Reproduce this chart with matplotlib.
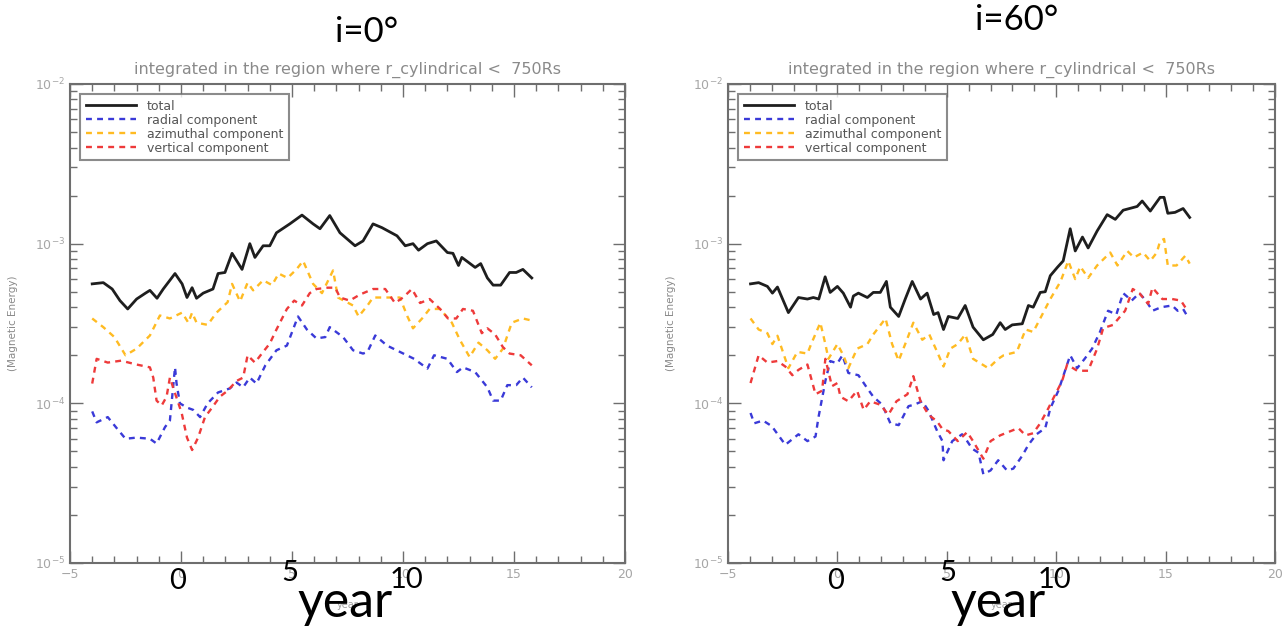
import matplotlib
matplotlib.use("Agg")
import matplotlib.pyplot as plt
import numpy as np
from matplotlib.ticker import MultipleLocator, LogLocator

# ---- i = 0 deg panel: (year, value) points ----
t_total_i0 = [-4, -3.5, -3.1, -2.75, -2.4, -2.0, -1.6, -1.4, -1.08, -0.8, -0.27, 0.05, 0.27, 0.5, 0.7,
              1.0, 1.44, 1.67, 1.98, 2.3, 2.75, 3.1, 3.33, 3.7, 4.0, 4.3, 4.9, 5.45, 5.95, 6.26, 6.7,
              7.16, 7.84, 8.2, 8.65, 9.05, 9.73, 10.1, 10.45, 10.7, 11.1, 11.5, 12.0, 12.25, 12.5,
              12.65, 13.25, 13.5, 13.8, 14.06, 14.4, 14.8, 15.1, 15.4, 15.8]
total_i0 = [5.6e-4, 5.7e-4, 5.2e-4, 4.4e-4, 3.9e-4, 4.5e-4, 4.9e-4, 5.1e-4, 4.55e-4, 5.2e-4, 6.5e-4,
            5.6e-4, 4.6e-4, 5.3e-4, 4.55e-4, 4.9e-4, 5.2e-4, 6.5e-4, 6.6e-4, 8.7e-4, 6.9e-4, 1.0e-3,
            8.2e-4, 9.7e-4, 9.7e-4, 1.17e-3, 1.33e-3, 1.51e-3, 1.33e-3, 1.24e-3, 1.5e-3, 1.17e-3,
            9.7e-4, 1.04e-3, 1.33e-3, 1.26e-3, 1.12e-3, 9.7e-4, 1.0e-3, 9.1e-4, 1.0e-3, 1.04e-3,
            8.8e-4, 8.7e-4, 7.3e-4, 8.2e-4, 7.1e-4, 7.5e-4, 6.1e-4, 5.5e-4, 5.5e-4, 6.6e-4, 6.6e-4,
            6.9e-4, 6.1e-4]

t_radial_i0 = [-4, -3.8, -3.3, -2.9, -2.5, -2.0, -1.4, -1.1, -0.72, -0.5, -0.27, -0.2, -0.05, 0.27,
               0.55, 0.86, 1.2, 1.67, 2.2, 2.5, 2.8, 3.1, 3.4, 3.8, 4.3, 4.77, 5.27, 5.67, 6.1, 6.5,
               6.7, 7.3, 7.75, 8.2, 8.4, 8.75, 9.28, 9.86, 10.5, 11.1, 11.4, 12.0, 12.43, 12.7,
               13.25, 13.8, 14.06, 14.4, 14.7, 15.1, 15.4, 15.8]
radial_i0 = [8.9e-5, 7.6e-5, 8.2e-5, 7.0e-5, 6.0e-5, 6.1e-5, 6.0e-5, 5.6e-5, 7.1e-5, 7.8e-5, 1.68e-4,
             1.33e-4, 1.0e-4, 9.4e-5, 9.1e-5, 8.2e-5, 1.0e-4, 1.17e-4, 1.24e-4, 1.35e-4, 1.26e-4,
             1.45e-4, 1.33e-4, 1.73e-4, 2.15e-4, 2.3e-4, 3.5e-4, 2.9e-4, 2.55e-4, 2.6e-4, 3.0e-4,
             2.6e-4, 2.15e-4, 2.05e-4, 2.1e-4, 2.66e-4, 2.3e-4, 2.1e-4, 1.9e-4, 1.65e-4, 2.0e-4,
             1.9e-4, 1.57e-4, 1.68e-4, 1.57e-4, 1.26e-4, 1.04e-4, 1.04e-4, 1.3e-4, 1.3e-4, 1.45e-4,
             1.26e-4]

t_azimuthal_i0 = [-4, -3.5, -3.0, -2.5, -2.0, -1.4, -0.95, -0.5, 0.05, 0.33, 0.5, 0.7, 1.2, 1.6, 2.1,
                  2.3, 2.66, 3.0, 3.25, 3.7, 4.1, 4.4, 4.8, 5.2, 5.5, 5.95, 6.35, 6.85, 7.07, 7.75,
                  8.0, 8.4, 8.65, 9.4, 9.86, 10.2, 10.45, 10.86, 11.2, 11.67, 12.2, 12.56, 13.0,
                  13.4, 13.8, 14.15, 14.5, 14.9, 15.4, 15.8]
azimuthal_i0 = [3.4e-4, 3.0e-4, 2.6e-4, 2.0e-4, 2.2e-4, 2.66e-4, 3.55e-4, 3.4e-4, 3.7e-4, 3.2e-4,
                3.7e-4, 3.2e-4, 3.1e-4, 3.7e-4, 4.3e-4, 5.6e-4, 4.35e-4, 5.7e-4, 5.1e-4, 5.9e-4,
                5.5e-4, 6.5e-4, 6.1e-4, 6.9e-4, 7.8e-4, 5.6e-4, 4.9e-4, 6.8e-4, 4.6e-4, 4.1e-4,
                3.5e-4, 4.1e-4, 4.6e-4, 4.6e-4, 4.6e-4, 3.5e-4, 2.95e-4, 3.4e-4, 3.9e-4, 3.9e-4,
                3.2e-4, 2.5e-4, 1.95e-4, 2.4e-4, 2.15e-4, 1.9e-4, 2.2e-4, 3.2e-4, 3.4e-4, 3.3e-4]

t_vertical_i0 = [-4, -3.8, -3.3, -2.7, -2.0, -1.4, -1.25, -1.1, -0.87, -0.65, -0.5, -0.35, 0.03, 0.27,
                 0.5, 0.77, 1.08, 1.4, 1.75, 2.1, 2.5, 2.8, 3.0, 3.33, 3.7, 4.0, 4.3, 4.77, 5.1,
                 5.45, 5.8, 6.1, 6.6, 6.95, 7.16, 7.6, 8.06, 8.65, 9.2, 9.64, 10.0, 10.4, 10.77,
                 11.2, 11.67, 12.03, 12.4, 12.7, 13.15, 13.55, 13.8, 14.15, 14.5, 14.8, 15.3, 15.8]
vertical_i0 = [1.33e-4, 1.9e-4, 1.8e-4, 1.85e-4, 1.75e-4, 1.68e-4, 1.45e-4, 1.04e-4, 9.7e-5, 1.1e-4,
               1.45e-4, 1.25e-4, 8.7e-5, 6.1e-5, 5.1e-5, 6.1e-5, 8.2e-5, 9.4e-5, 1.1e-4, 1.2e-4,
               1.38e-4, 1.45e-4, 2.0e-4, 1.8e-4, 2.1e-4, 2.37e-4, 2.9e-4, 3.9e-4, 4.4e-4, 4.1e-4,
               4.9e-4, 5.2e-4, 5.3e-4, 5.3e-4, 4.6e-4, 4.4e-4, 4.8e-4, 5.2e-4, 5.2e-4, 4.25e-4,
               4.6e-4, 5.2e-4, 4.25e-4, 4.5e-4, 3.9e-4, 3.4e-4, 3.4e-4, 3.9e-4, 3.8e-4, 2.75e-4,
               2.95e-4, 2.7e-4, 2.25e-4, 2.05e-4, 2.0e-4, 1.73e-4]

# ---- i = 60 deg panel ----
t_total_i60 = [-3.97, -3.6, -3.2, -2.97, -2.74, -2.24, -1.78, -1.37, -1.1, -0.85, -0.56, -0.33, 0.0,
               0.27, 0.6, 0.73, 0.96, 1.37, 1.64, 1.96, 2.24, 2.42, 2.8, 3.1, 3.42, 3.8, 4.1, 4.4,
               4.6, 4.85, 5.07, 5.5, 5.84, 6.2, 6.67, 7.1, 7.44, 7.67, 7.99, 8.45, 8.73, 8.95, 9.27,
               9.5, 9.73, 10.05, 10.32, 10.64, 10.87, 11.2, 11.46, 11.87, 12.33, 12.7, 13.06, 13.7,
               13.93, 14.3, 14.75, 14.93, 15.1, 15.43, 15.8, 16.1]
total_i60 = [5.6e-4, 5.7e-4, 5.4e-4, 4.9e-4, 5.35e-4, 3.7e-4, 4.6e-4, 4.5e-4, 4.6e-4, 4.5e-4, 6.2e-4,
             4.95e-4, 5.4e-4, 4.9e-4, 4.0e-4, 4.7e-4, 4.9e-4, 4.6e-4, 4.95e-4, 4.95e-4, 5.8e-4,
             4.0e-4, 3.5e-4, 4.5e-4, 5.8e-4, 4.5e-4, 4.9e-4, 3.6e-4, 3.7e-4, 2.9e-4, 3.5e-4, 3.4e-4,
             4.1e-4, 3.0e-4, 2.5e-4, 2.7e-4, 3.2e-4, 2.9e-4, 3.1e-4, 3.15e-4, 4.1e-4, 4.0e-4,
             4.95e-4, 5.0e-4, 6.3e-4, 7.1e-4, 7.8e-4, 1.24e-3, 9.0e-4, 1.1e-3, 9.4e-4, 1.2e-3,
             1.52e-3, 1.42e-3, 1.62e-3, 1.71e-3, 1.85e-3, 1.6e-3, 1.95e-3, 1.95e-3, 1.55e-3,
             1.57e-3, 1.66e-3, 1.46e-3]

t_radial_i60 = [-3.97, -3.8, -3.4, -3.0, -2.38, -1.78, -1.37, -1.0, -0.87, -0.55, -0.33, 0.0, 0.23,
                0.5, 0.96, 1.37, 1.64, 2.05, 2.42, 2.8, 3.25, 3.5, 3.88, 4.16, 4.56, 4.8, 4.85,
                5.25, 5.7, 5.93, 6.16, 6.45, 6.67, 7.0, 7.35, 7.75, 8.04, 8.45, 8.73, 9.1, 9.5,
                9.73, 10.1, 10.64, 10.96, 11.3, 11.64, 12.0, 12.37, 12.75, 13.06, 13.45, 13.8,
                14.1, 14.4, 14.8, 15.3, 15.55, 15.8, 16.0]
radial_i60 = [8.7e-5, 7.5e-5, 7.8e-5, 7.2e-5, 5.5e-5, 6.4e-5, 5.8e-5, 6.2e-5, 8.1e-5, 1.38e-4,
              1.84e-4, 1.78e-4, 2.0e-4, 1.55e-4, 1.5e-4, 1.24e-4, 1.1e-4, 9.8e-5, 7.5e-5, 7.3e-5,
              9.6e-5, 9.8e-5, 1.03e-4, 9.0e-5, 6.7e-5, 5.8e-5, 4.4e-5, 5.8e-5, 6.4e-5, 5.8e-5,
              5.2e-5, 4.9e-5, 3.6e-5, 3.8e-5, 4.4e-5, 3.8e-5, 3.9e-5, 4.7e-5, 5.5e-5, 6.4e-5,
              7.0e-5, 9.3e-5, 1.2e-4, 2.0e-4, 1.66e-4, 1.9e-4, 2.2e-4, 2.8e-4, 3.8e-4, 3.6e-4,
              4.9e-4, 4.4e-4, 4.9e-4, 4.4e-4, 3.8e-4, 4.0e-4, 4.1e-4, 3.8e-4, 3.9e-4, 3.5e-4]

t_azimuthal_i60 = [-3.97, -3.6, -3.2, -2.97, -2.74, -2.24, -1.83, -1.37, -1.2, -0.78, -0.55, -0.41,
                   0.0, 0.27, 0.5, 0.9, 1.37, 1.64, 2.2, 2.5, 2.8, 3.2, 3.47, 3.88, 4.2, 4.56, 4.85,
                   5.16, 5.5, 5.85, 6.2, 6.9, 7.35, 7.6, 8.2, 8.6, 8.95, 9.27, 9.73, 10.2, 10.55,
                   10.87, 11.1, 11.46, 11.87, 12.47, 12.8, 13.25, 13.55, 13.97, 14.3, 14.6, 14.75,
                   14.93, 15.1, 15.5, 15.9, 16.1]
azimuthal_i60 = [3.4e-4, 2.9e-4, 2.75e-4, 2.35e-4, 2.65e-4, 1.66e-4, 2.1e-4, 2.05e-4, 2.35e-4, 3.2e-4,
                 2.35e-4, 1.9e-4, 2.35e-4, 2.0e-4, 1.66e-4, 2.2e-4, 2.35e-4, 2.7e-4, 3.4e-4, 2.35e-4,
                 1.85e-4, 2.55e-4, 3.2e-4, 2.5e-4, 2.7e-4, 2.1e-4, 1.7e-4, 2.2e-4, 2.35e-4, 2.7e-4,
                 1.9e-4, 1.66e-4, 1.9e-4, 2.0e-4, 2.1e-4, 2.9e-4, 2.8e-4, 3.4e-4, 4.5e-4, 5.8e-4,
                 7.8e-4, 6.0e-4, 7.2e-4, 6.1e-4, 7.3e-4, 8.8e-4, 7.3e-4, 9.0e-4, 8.2e-4, 8.8e-4,
                 7.8e-4, 8.8e-4, 1.04e-3, 1.07e-3, 7.3e-4, 7.3e-4, 8.4e-4, 7.5e-4]

t_vertical_i60 = [-3.97, -3.6, -3.2, -2.74, -2.38, -2.06, -1.78, -1.37, -1.0, -0.7, -0.55, -0.25,
                  0.0, 0.14, 0.5, 0.9, 1.2, 1.5, 1.96, 2.33, 2.7, 3.2, 3.47, 3.8, 4.16, 4.56, 4.8,
                  5.07, 5.5, 5.93, 6.2, 6.67, 7.0, 7.44, 7.8, 8.27, 8.6, 8.95, 9.27, 9.64, 9.86,
                  10.27, 10.5, 10.96, 11.46, 11.87, 12.15, 12.6, 13.15, 13.5, 13.8, 14.2, 14.4,
                  14.85, 15.3, 15.7, 16.0]
vertical_i60 = [1.34e-4, 2.0e-4, 1.8e-4, 1.84e-4, 1.7e-4, 1.5e-4, 1.62e-4, 1.75e-4, 1.14e-4, 1.2e-4,
                1.9e-4, 1.28e-4, 1.34e-4, 1.1e-4, 1.03e-4, 1.2e-4, 9.1e-5, 1.03e-4, 9.8e-5, 8.5e-5,
                1.03e-4, 1.14e-4, 1.48e-4, 1.03e-4, 8.5e-5, 7.7e-5, 6.9e-5, 6.7e-5, 5.8e-5, 6.6e-5,
                5.8e-5, 4.5e-5, 5.8e-5, 6.3e-5, 6.6e-5, 7.0e-5, 6.3e-5, 6.5e-5, 7.5e-5, 9.3e-5,
                1.07e-4, 1.38e-4, 1.75e-4, 1.6e-4, 1.6e-4, 2.2e-4, 2.96e-4, 3.1e-4, 3.8e-4, 5.2e-4,
                4.9e-4, 4.2e-4, 5.3e-4, 4.5e-4, 4.5e-4, 4.4e-4, 3.8e-4]

labels = ["total", "radial component", "azimuthal component", "vertical component"]
colors = ["#1e1e1e", "#3a3ad8", "#ffbb22", "#ee3a3a"]
title = "integrated in the region where r_cylindrical <  750Rs"
gray = "#6e6e6e"

W, H = 1286, 631
fig = plt.figure(figsize=(W / 100, H / 100), dpi=100)


def px(x, y):
    return x / W, 1 - y / H


def panel(rect, series):
    ax = fig.add_axes(rect)
    for i, ((tt, vals), lab, c) in enumerate(zip(series, labels, colors)):
        if i == 0:
            ax.plot(tt, vals, color=c, lw=2.0, label=lab)
        else:
            ax.plot(tt, vals, color=c, lw=1.7, ls=(0, (2.5, 2.2)), label=lab)
    ax.set_yscale("log")
    ax.set_xlim(-5, 20)
    ax.set_ylim(1e-5, 1e-2)
    ax.xaxis.set_major_locator(MultipleLocator(5))
    ax.xaxis.set_minor_locator(MultipleLocator(1))
    ax.yaxis.set_major_locator(LogLocator(10))
    ax.yaxis.set_minor_locator(LogLocator(10, subs=np.arange(2, 10)))
    ax.tick_params(which="both", direction="in", top=True, right=True,
                   colors=gray, labelcolor="#a6a6a6", labelsize=9, width=1.0)
    ax.tick_params(which="major", length=9)
    ax.tick_params(which="minor", length=5)
    for s in ax.spines.values():
        s.set_color(gray)
        s.set_linewidth(1.5)
    ax.set_title(title, color="#8a8a8a", fontsize=11.5, pad=7)
    ax.set_ylabel("(Magnetic Energy)", color="#8a8a8a", fontsize=7.5, labelpad=12)
    ax.set_xlabel("year", color="#a0a0a0", fontsize=7, labelpad=14)
    leg = ax.legend(loc="upper left", fontsize=9, handlelength=4.0, labelspacing=0.08,
                    borderpad=0.45, fancybox=False, borderaxespad=0.8, handletextpad=0.9)
    leg.get_frame().set_edgecolor(gray)
    leg.get_frame().set_linewidth(1.5)
    for t in leg.get_texts():
        t.set_color("#555555")
    return ax


bottom = 1 - 563 / H
height = (563 - 84) / H
panel([70 / W, bottom, (625 - 70) / W, height],
      [(t_total_i0, total_i0), (t_radial_i0, radial_i0),
       (t_azimuthal_i0, azimuthal_i0), (t_vertical_i0, vertical_i0)])
panel([728 / W, bottom, (1275 - 728) / W, height],
      [(t_total_i60, total_i60), (t_radial_i60, radial_i60),
       (t_azimuthal_i60, azimuthal_i60), (t_vertical_i60, vertical_i60)])

# big labels pasted over the slide
big = dict(color="black", family="Lato", ha="center", va="center")
fig.text(*px(367, 32), "i=0°", fontsize=25, **big)
fig.text(*px(1017, 20), "i=60°", fontsize=25, **big)
for x0 in (178, 836):
    fig.text(*px(x0, 581), "0", fontsize=21, **big)
for x0 in (290, 948):
    fig.text(*px(x0, 573), "5", fontsize=21, **big)
for x0 in (406, 1055):
    fig.text(*px(x0, 580), "10", fontsize=21, **big)
fig.text(*px(345, 603), "year", fontsize=36, **big)
fig.text(*px(998, 603), "year", fontsize=36, **big)

fig.savefig("out.png", dpi=100)
